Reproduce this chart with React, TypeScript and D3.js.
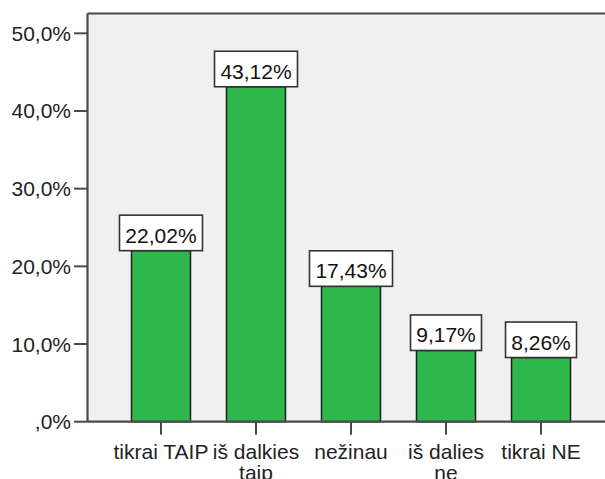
import React from "react";
import * as d3 from "d3";

const categories: string[][] = [
  ["tikrai TAIP"],
  ["iš dalkies", "taip"],
  ["nežinau"],
  ["iš dalies", "ne"],
  ["tikrai NE"],
];
const values: number[] = [22.02, 43.12, 17.43, 9.17, 8.26];
const valueLabels: string[] = ["22,02%", "43,12%", "17,43%", "9,17%", "8,26%"];
const yTicks: number[] = [0, 10, 20, 30, 40, 50];
const yTickLabels: string[] = [",0%", "10,0%", "20,0%", "30,0%", "40,0%", "50,0%"];

const W = 605;
const H = 479;
const plotLeft = 87.5;
const plotTop = 13.5;
const plotBottom = 421.7;
const FONT = "'Liberation Sans', Arial, sans-serif";

export default function App() {
  const y = d3.scaleLinear().domain([0, 52.55]).range([plotBottom, plotTop]);
  const x = d3
    .scaleBand<number>()
    .domain(d3.range(values.length))
    .range([plotLeft, 614.5])
    .paddingInner(0.379)
    .paddingOuter(0.463);
  const bw = x.bandwidth();

  return (
    <svg
      width={W}
      height={H}
      style={{ position: "absolute", left: 0, top: 0, background: "#ffffff" }}
      fontFamily={FONT}
    >
      <rect x={plotLeft} y={plotTop} width={W - plotLeft + 10} height={plotBottom - plotTop} fill="#f0f0f0" />

      {values.map((v, i) => {
        const x0 = x(i)!;
        const cx = x0 + bw / 2;
        const top = y(v);
        const bh = 35.5;
        const bwid = valueLabels[i].length > 5 ? 83 : 71;
        return (
          <g key={i}>
            <rect x={x0} y={top} width={bw} height={plotBottom - top} fill="#2eb84b" stroke="#1e1e1e" strokeWidth={1.5} />
            <rect x={cx - bwid / 2} y={top - bh} width={bwid} height={bh} fill="#ffffff" stroke="#333333" strokeWidth={1.6} />
            <text x={cx} y={top - 8} textAnchor="middle" fontSize={21} fill="#111">
              {valueLabels[i]}
            </text>
          </g>
        );
      })}

      {/* frame: left axis, top border, bottom axis */}
      <line x1={plotLeft} x2={plotLeft} y1={plotTop} y2={plotBottom} stroke="#4a4a4a" strokeWidth={2.2} />
      <line x1={plotLeft} x2={W} y1={plotTop} y2={plotTop} stroke="#4a4a4a" strokeWidth={2.2} />
      <line x1={plotLeft} x2={W} y1={plotBottom} y2={plotBottom} stroke="#4a4a4a" strokeWidth={2.2} />

      {yTicks.map((t, i) => (
        <g key={t}>
          <line x1={74} x2={plotLeft} y1={y(t)} y2={y(t)} stroke="#4a4a4a" strokeWidth={2} />
          <text x={71} y={y(t) + 7.5} textAnchor="end" fontSize={21} fill="#222">
            {yTickLabels[i]}
          </text>
        </g>
      ))}

      {categories.map((lines, i) => {
        const cx = x(i)! + bw / 2;
        return (
          <g key={i}>
            <line x1={cx} x2={cx} y1={plotBottom} y2={plotBottom + 13} stroke="#4a4a4a" strokeWidth={2} />
            {lines.map((l, j) => (
              <text key={j} x={cx} y={459 + j * 21} textAnchor="middle" fontSize={21} fill="#222">
                {l}
              </text>
            ))}
          </g>
        );
      })}
    </svg>
  );
}
